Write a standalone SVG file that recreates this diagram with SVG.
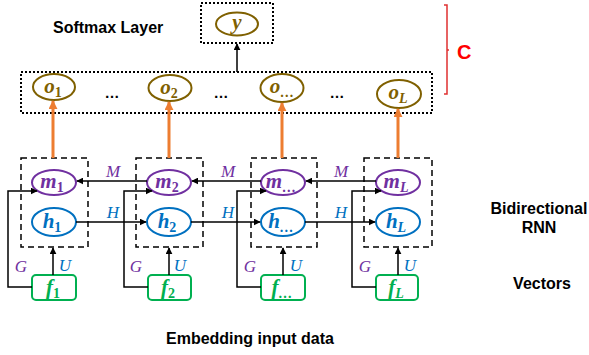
<svg xmlns="http://www.w3.org/2000/svg" width="589" height="355" viewBox="0 0 589 355">
<defs>
<marker id="ah" viewBox="0 0 10 10" refX="9" refY="5" markerWidth="7" markerHeight="7" markerUnits="userSpaceOnUse" orient="auto"><path d="M0,0L10,5L0,10z" fill="#000"/></marker>
<marker id="ao" viewBox="0 0 10 10" refX="9" refY="5" markerWidth="9" markerHeight="9" markerUnits="userSpaceOnUse" orient="auto"><path d="M0,0L10,5L0,10z" fill="#ED7D31"/></marker>
</defs>
<style>
.lbl{font-family:"Liberation Sans",Arial,sans-serif;font-weight:bold;font-size:16px;fill:#000}
.mth{font-family:"Liberation Serif","Times New Roman",serif;font-style:italic;font-weight:bold;font-size:21px;text-anchor:middle}
.sub{font-size:14px}
.up{font-style:normal}
.wl{font-family:"Liberation Serif","Times New Roman",serif;font-style:italic;font-size:17px;text-anchor:middle}
.dot{fill:none;stroke:#000;stroke-width:2;stroke-dasharray:2,2}
.dash{fill:none;stroke:#000;stroke-width:1.5;stroke-dasharray:6,4}
.eo{fill:#fff;stroke:#7F6000;stroke-width:2}
.em{fill:#fff;stroke:#7030A0;stroke-width:2}
.eh{fill:#fff;stroke:#0070C0;stroke-width:2}
.ef{fill:#fff;stroke:#00B050;stroke-width:2}
.cn{fill:none;stroke:#000;stroke-width:1.5}
.or{fill:none;stroke:#ED7D31;stroke-width:3}
.po{fill:#7F6000}.pm{fill:#7030A0}.ph{fill:#0070C0}.pf{fill:#00B050}
.ell{font-family:"Liberation Sans",Arial,sans-serif;font-size:15px;font-weight:bold;text-anchor:middle}
</style>
<text class="lbl" x="53" y="33">Softmax Layer</text>
<text class="lbl" x="539" y="214" text-anchor="middle">Bidirectional</text>
<text class="lbl" x="539" y="233" text-anchor="middle">RNN</text>
<text class="lbl" x="542" y="289" text-anchor="middle">Vectors</text>
<text class="lbl" x="250" y="344" text-anchor="middle">Embedding input data</text>
<g id="bracket-C">
<path d="M444,5H447V94H444M447,50H449" fill="none" stroke="#E03030" stroke-width="1.5"/>
<text x="457" y="59" font-family="Liberation Sans,Arial,sans-serif" font-weight="bold" font-size="20" fill="#FF0000">C</text>
</g>
<g id="softmax">
<rect class="dot" x="201" y="3" width="72" height="40"/>
<ellipse class="eo" cx="237" cy="24" rx="21" ry="11.5"/>
<text class="mth po" x="237" y="29">y</text>
</g>
<g id="output-layer">
<rect class="dot" x="21" y="72" width="411" height="41"/>
<ellipse class="eo" cx="54" cy="87" rx="21" ry="13"/>
<text class="mth po" x="53" y="93">o<tspan class="sub up" dy="4">1</tspan></text>
<ellipse class="eo" cx="170" cy="88" rx="21.5" ry="13"/>
<text class="mth po" x="169" y="94">o<tspan class="sub up" dy="4">2</tspan></text>
<ellipse class="eo" cx="282" cy="88" rx="21.5" ry="14"/>
<text class="mth po" x="282" y="93">o<tspan class="sub" dy="4">…</tspan></text>
<ellipse class="eo" cx="399" cy="94" rx="22" ry="14"/>
<text class="mth po" x="398" y="99">o<tspan class="sub" dy="4">L</tspan></text>
<text class="ell" x="112" y="98">…</text>
<text class="ell" x="221" y="98">…</text>
<text class="ell" x="337" y="98">…</text>
</g>
<g id="cell-1">
<rect class="dash" x="21" y="158" width="67" height="89"/>
<ellipse class="em" cx="54" cy="182.5" rx="22" ry="12.5"/>
<text class="mth pm" x="52" y="188">m<tspan class="sub up" dy="4">1</tspan></text>
<ellipse class="eh" cx="54" cy="222" rx="22" ry="14"/>
<text class="mth ph" x="52" y="228">h<tspan class="sub up" dy="4">1</tspan></text>
</g>
<g id="cell-2">
<rect class="dash" x="136" y="158" width="67" height="89"/>
<ellipse class="em" cx="169" cy="182.5" rx="22" ry="12.5"/>
<text class="mth pm" x="167" y="188">m<tspan class="sub up" dy="4">2</tspan></text>
<ellipse class="eh" cx="169" cy="222" rx="22" ry="14"/>
<text class="mth ph" x="167" y="228">h<tspan class="sub up" dy="4">2</tspan></text>
</g>
<g id="cell-3">
<rect class="dash" x="251" y="158" width="66" height="89"/>
<ellipse class="em" cx="283" cy="182.5" rx="22" ry="12.5"/>
<text class="mth pm" x="281" y="188">m<tspan class="sub" dy="4">…</tspan></text>
<ellipse class="eh" cx="283" cy="222" rx="22" ry="14"/>
<text class="mth ph" x="281" y="228">h<tspan class="sub" dy="4">…</tspan></text>
</g>
<g id="cell-L">
<rect class="dash" x="364" y="158" width="68" height="89"/>
<ellipse class="em" cx="398" cy="182.5" rx="22" ry="12.5"/>
<text class="mth pm" x="396" y="188">m<tspan class="sub" dy="4">L</tspan></text>
<ellipse class="eh" cx="398" cy="222" rx="22" ry="14"/>
<text class="mth ph" x="396" y="228">h<tspan class="sub" dy="4">L</tspan></text>
</g>
<g id="input-1">
<rect class="ef" x="32" y="275" width="44" height="25" rx="4"/>
<text class="mth pf" x="53" y="294">f<tspan class="sub up" dy="4">1</tspan></text>
</g>
<g id="input-2">
<rect class="ef" x="148" y="275" width="43" height="25" rx="4"/>
<text class="mth pf" x="168" y="294">f<tspan class="sub up" dy="4">2</tspan></text>
</g>
<g id="input-3">
<rect class="ef" x="261" y="275" width="44" height="25" rx="4"/>
<text class="mth pf" x="282" y="294">f<tspan class="sub" dy="4">…</tspan></text>
</g>
<g id="input-L">
<rect class="ef" x="376" y="275" width="42" height="25" rx="4"/>
<text class="mth pf" x="396" y="294">f<tspan class="sub" dy="4">L</tspan></text>
</g>
<g id="connectors">
<line class="cn" x1="237" y1="72" x2="237" y2="44" marker-end="url(#ah)"/>
<line class="or" x1="53" y1="158" x2="53" y2="101" marker-end="url(#ao)"/>
<line class="or" x1="169" y1="158" x2="169" y2="102" marker-end="url(#ao)"/>
<line class="or" x1="282" y1="158" x2="282" y2="103" marker-end="url(#ao)"/>
<line class="or" x1="398" y1="158" x2="398" y2="109" marker-end="url(#ao)"/>
<line class="cn" x1="147" y1="181" x2="77" y2="181" marker-end="url(#ah)"/>
<line class="cn" x1="261" y1="181" x2="192" y2="181" marker-end="url(#ah)"/>
<line class="cn" x1="376" y1="181" x2="306" y2="181" marker-end="url(#ah)"/>
<line class="cn" x1="76" y1="222" x2="146" y2="222" marker-end="url(#ah)"/>
<line class="cn" x1="191" y1="222" x2="260" y2="222" marker-end="url(#ah)"/>
<line class="cn" x1="305" y1="222" x2="375" y2="222" marker-end="url(#ah)"/>
<path class="cn" d="M32,287H8V191H37" marker-end="url(#ah)"/>
<path class="cn" d="M148,287H124V191H152" marker-end="url(#ah)"/>
<path class="cn" d="M261,287H237V191H266" marker-end="url(#ah)"/>
<path class="cn" d="M376,287H352V191H381" marker-end="url(#ah)"/>
<line class="cn" x1="53" y1="275" x2="53" y2="248" marker-end="url(#ah)"/>
<line class="cn" x1="169" y1="275" x2="169" y2="248" marker-end="url(#ah)"/>
<line class="cn" x1="283" y1="275" x2="283" y2="248" marker-end="url(#ah)"/>
<line class="cn" x1="398" y1="275" x2="398" y2="248" marker-end="url(#ah)"/>
<text class="wl pm" x="113" y="177">M</text>
<text class="wl pm" x="228" y="177">M</text>
<text class="wl pm" x="341" y="177">M</text>
<text class="wl ph" x="113" y="218">H</text>
<text class="wl ph" x="228" y="218">H</text>
<text class="wl ph" x="341" y="218">H</text>
<text class="wl pm" x="21" y="272">G</text>
<text class="wl pm" x="136" y="272">G</text>
<text class="wl pm" x="250" y="272">G</text>
<text class="wl pm" x="365" y="272">G</text>
<text class="wl ph" x="65" y="271">U</text>
<text class="wl ph" x="180" y="271">U</text>
<text class="wl ph" x="296" y="271">U</text>
<text class="wl ph" x="410" y="271">U</text>
</g>
</svg>
